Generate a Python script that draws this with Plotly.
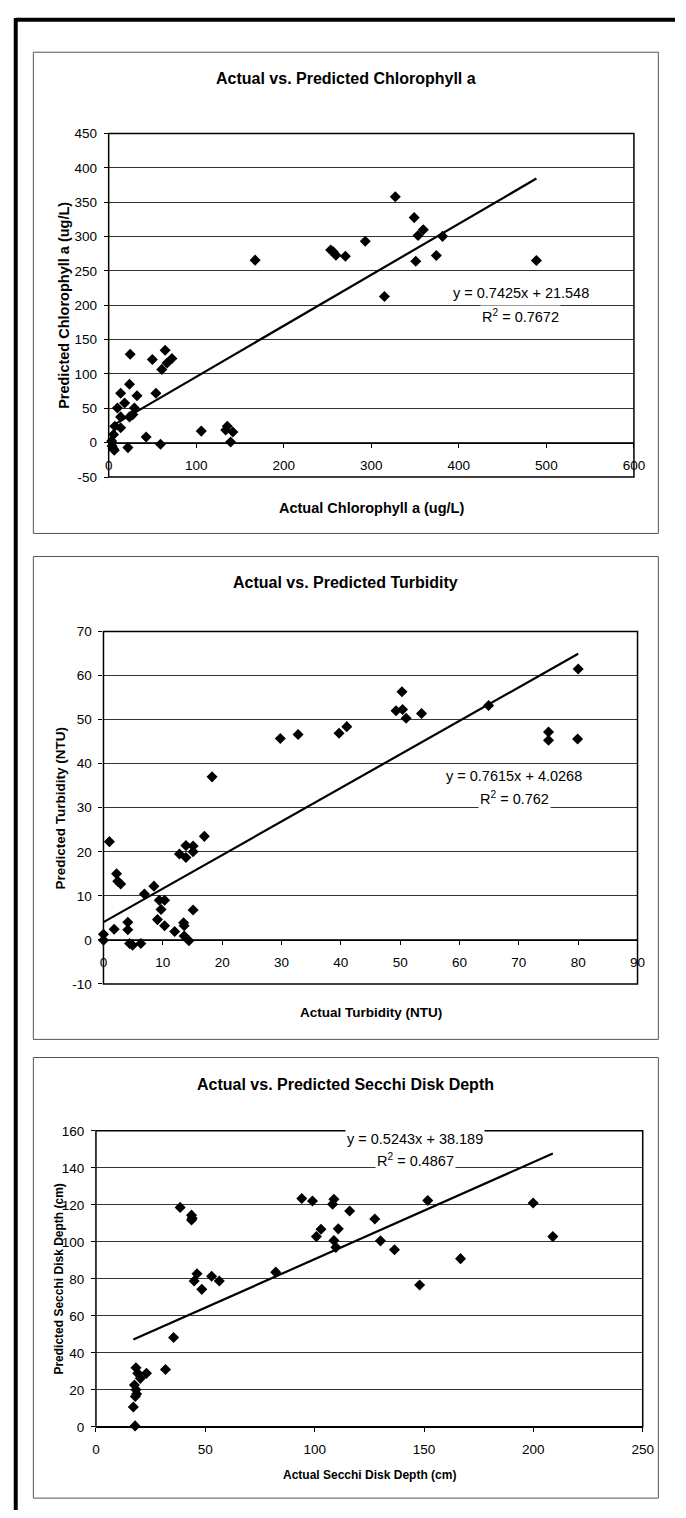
import plotly.graph_objects as go

W, H = 686, 1518

# ---------------- data ----------------
chl_actual = [167.3, 24.6, 49.9, 64.5, 72.3, 66.7, 60.7, 23.8, 13.7, 32.4, 54.0, 18.2, 10.0, 29.4,
              13.7, 23.8, 27.6, 13.7, 7.0, 5.6, 3.4, 5.2, 6.4, 22.0, 42.8, 59.2, 105.8, 135.5, 133.7,
              141.9, 139.3, 4.0, 327.4, 349.0, 359.4, 353.4, 381.4, 293.1, 253.6, 256.6, 259.6,
              270.4, 374.3, 350.8, 488.6, 315.0]
chl_pred = [265.6, 128.7, 121.0, 134.5, 122.5, 116.0, 106.6, 85.0, 72.0, 68.2, 72.0, 57.6, 50.4, 50.4,
            37.5, 37.5, 40.8, 21.6, 24.0, 12.0, 2.4, -8.6, -11.0, -7.2, 8.2, -2.4, 16.8, 24.0, 18.3,
            15.4, 1.0, -4.8, 357.8, 327.5, 309.8, 301.6, 300.2, 293.0, 280.5, 277.6, 272.8,
            271.3, 272.3, 264.1, 265.1, 212.8]
chl_fit = (0.7425, 21.548)
chl_eq = ["y = 0.7425x + 21.548", "R<sup>2</sup> = 0.7672"]
chl_yticks = [-50, 0, 50, 100, 150, 200, 250, 300, 350, 400, 450]
chl_ylabels = ["-50", "0", "50", "100", "150", "200", "250", "300", "350", "400", "450"]
chl_xticks = [0, 100, 200, 300, 400, 500, 600]

tur_actual = [29.8, 32.8, 18.3, 17.0, 13.9, 15.1, 12.8, 13.9, 15.1, 1.0, 2.2, 2.4, 2.9, 6.9, 8.5, 9.4,
              10.3, 9.7, 9.1, 10.3, 15.1, 13.5, 13.6, 12.0, 13.6, 14.4, 4.1, 4.1, 1.8, 4.4, 4.9, 6.3,
              0.0, 0.0, 39.7, 41.0, 50.3, 49.3, 50.4, 51.0, 53.6, 64.9, 80.0, 75.0, 75.0, 79.9]
tur_pred = [45.7, 46.6, 37.0, 23.5, 21.4, 21.3, 19.5, 18.7, 20.0, 22.3, 15.0, 13.3, 12.7, 10.4, 12.2, 9.0,
            9.0, 6.9, 4.6, 3.2, 6.8, 3.9, 3.2, 1.9, 0.9, -0.2, 4.0, 2.3, 2.4, -0.8, -1.2, -0.8,
            1.3, -0.1, 46.9, 48.4, 56.3, 52.0, 52.3, 50.3, 51.4, 53.2, 61.5, 47.2, 45.3, 45.6]
tur_fit = (0.7615, 4.0268)
tur_eq = ["y = 0.7615x + 4.0268", "R<sup>2</sup> = 0.762"]
tur_yticks = [-10, 0, 10, 20, 30, 40, 50, 60, 70]
tur_ylabels = ["-10", "0", "10", "20", "30", "40", "50", "60", "70"]
tur_xticks = [0, 10, 20, 30, 40, 50, 60, 70, 80, 90]

sec_actual = [38.5, 43.7, 44.0, 43.7, 46.2, 44.9, 48.4, 52.9, 56.4, 82.2, 94.1, 99.0, 100.8, 102.9,
              35.5, 31.8, 18.3, 19.1, 20.3, 23.1, 17.6, 18.3, 18.6, 18.0, 17.1, 17.9, 108.8, 108.2,
              116.0, 110.8, 108.8, 109.7, 127.5, 130.1, 136.5, 151.7, 148.0, 166.7, 199.9, 208.9]
sec_pred = [118.6, 114.4, 112.7, 111.8, 82.7, 78.8, 74.3, 81.4, 78.8, 83.6, 123.4, 122.1, 102.8, 106.8,
            48.3, 31.0, 31.9, 28.9, 26.2, 28.9, 22.6, 20.0, 17.8, 16.4, 10.7, 0.5, 123.0, 120.3,
            116.6, 107.0, 100.7, 97.0, 112.3, 100.5, 95.7, 122.3, 76.6, 90.9, 121.0, 102.8]
sec_fit = (0.5243, 38.189)
sec_eq = ["y = 0.5243x + 38.189", "R<sup>2</sup> = 0.4867"]
sec_yticks = [0, 20, 40, 60, 80, 100, 120, 140, 160]
sec_ylabels = ["0", "20", "40", "60", "80", "100", "120", "140", "160"]
sec_xticks = [0, 50, 100, 150, 200, 250]

titles = ["Actual vs. Predicted Chlorophyll a", "Actual vs. Predicted Turbidity",
          "Actual vs. Predicted Secchi Disk Depth"]
xtitles = ["Actual Chlorophyll a (ug/L)", "Actual Turbidity (NTU)", "Actual Secchi Disk Depth (cm)"]
ytitles = ["Predicted Chlorophyll a (ug/L)", "Predicted Turbidity (NTU)", "Predicted Secchi Disk Depth (cm)"]

x_ranges = [(0, 600), (0, 90), (0, 250)]
y_ranges = [(-50, 450), (-10, 70), (0, 160)]
eq_pos = [((470.7, 217.6), (470.7, 184.9)), ((69.2, 37.1), (69.2, 32.2)), ((146.1, 155.8), (146.1, 144.4))]

# ---------------- layout geometry (pixels) ----------------
plot_px = [  # left, right, top, bottom
    (107, 644, 127.7, 474.7),
    (101.7, 647.7, 630.7, 986.7),
    (94, 653, 1135, 1434),
]
box_px = [(30, 669, 45.7, 531.7), (30, 669, 555, 1042.7), (30, 669, 1061, 1506)]
title_y = [72, 581, 1088]
xtitle_y = [506, 1016, 1483]
ytitle_x = [62, 58, 56]
title_sizes = [16, 16, 16]
xt_sizes = [14.5, 13.5, 12]
tick_size = 13.5


def px(x):
    return x / W


def py(y):
    return 1 - y / H


fig = go.Figure()
font_fam = "Liberation Sans, Arial, sans-serif"

datasets = [(chl_actual, chl_pred, chl_fit, chl_eq, chl_xticks, chl_yticks, chl_ylabels),
            (tur_actual, tur_pred, tur_fit, tur_eq, tur_xticks, tur_yticks, tur_ylabels),
            (sec_actual, sec_pred, sec_fit, sec_eq, sec_xticks, sec_yticks, sec_ylabels)]

shapes = []
annotations = []
for i, (xa, ya, fit, eq, xt, yt, yl) in enumerate(datasets):
    n = i + 1
    xref = "x" if n == 1 else f"x{n}"
    yref = "y" if n == 1 else f"y{n}"
    fig.add_trace(go.Scatter(x=xa, y=ya, mode="markers", xaxis=xref, yaxis=yref,
                             marker=dict(symbol="diamond", size=8.5, color="black"),
                             showlegend=False, cliponaxis=False))
    x0, x1 = min(xa), max(xa)
    fig.add_trace(go.Scatter(x=[x0, x1], y=[fit[0] * x0 + fit[1], fit[0] * x1 + fit[1]],
                             mode="lines", line=dict(color="black", width=2.2),
                             xaxis=xref, yaxis=yref, showlegend=False))
    l, r, t, b = plot_px[i]
    ydom = [py(b), py(t)]
    xdom = [px(l), px(r)]
    yr = y_ranges[i]
    zero_frac = (0 - yr[0]) / (yr[1] - yr[0])
    xpos = ydom[0] + zero_frac * (ydom[1] - ydom[0])
    ax_key = "xaxis" if n == 1 else f"xaxis{n}"
    ay_key = "yaxis" if n == 1 else f"yaxis{n}"
    fig.update_layout(**{
        ax_key: dict(domain=xdom, range=list(x_ranges[i]), tickvals=xt,
                     ticktext=[str(v) for v in xt],
                     anchor="free", position=xpos, showgrid=False, zeroline=False,
                     showline=True, linecolor="black", linewidth=1,
                     ticks="outside", ticklen=4, tickcolor="black",
                     tickfont=dict(family=font_fam, size=tick_size, color="black"),
                     ticklabelstandoff=6),
        ay_key: dict(domain=ydom, range=list(yr), tickvals=yt, ticktext=yl,
                     anchor=xref, showgrid=True, gridcolor="#333", gridwidth=1,
                     zeroline=False, showline=False,
                     ticks="outside", ticklen=4, tickcolor="black",
                     tickfont=dict(family=font_fam, size=tick_size, color="black"),
                     ticklabelstandoff=4),
    })
    # plot-area frame
    shapes.append(dict(type="rect", xref=f"{xref} domain", yref=f"{yref} domain",
                       x0=0, x1=1, y0=0, y1=1, line=dict(color="black", width=1.5),
                       layer="above"))
    # chart-area box
    bl, br, bt, bb = box_px[i]
    shapes.append(dict(type="rect", xref="paper", yref="paper", x0=px(bl), x1=px(br),
                       y0=py(bb), y1=py(bt), line=dict(color="#555", width=1)))
    # titles
    annotations.append(dict(text=f"<b>{titles[i]}</b>", xref="paper", yref="paper",
                            x=px((bl + br) / 2), y=py(title_y[i]), showarrow=False,
                            xanchor="center", yanchor="middle",
                            font=dict(family=font_fam, size=title_sizes[i], color="black")))
    annotations.append(dict(text=f"<b>{xtitles[i]}</b>", xref="paper", yref="paper",
                            x=px((l + r) / 2), y=py(xtitle_y[i]), showarrow=False,
                            xanchor="center", yanchor="middle",
                            font=dict(family=font_fam, size=xt_sizes[i], color="black")))
    annotations.append(dict(text=f"<b>{ytitles[i]}</b>", xref="paper", yref="paper",
                            x=px(ytitle_x[i]), y=py((t + b) / 2), showarrow=False,
                            textangle=-90, xanchor="center", yanchor="middle",
                            font=dict(family=font_fam, size=xt_sizes[i], color="black")))
    # equation
    (ex, ey), (rx, ry) = eq_pos[i]
    annotations.append(dict(text=eq[0], xref=xref, yref=yref, x=ex, y=ey, showarrow=False,
                            font=dict(family=font_fam, size=14.5, color="black"),
                            bgcolor="white"))
    annotations.append(dict(text=eq[1], xref=xref, yref=yref, x=rx, y=ry, showarrow=False,
                            font=dict(family=font_fam, size=14.5, color="black"),
                            bgcolor="white"))

# outer thick page frame (top & left)
shapes.append(dict(type="line", xref="paper", yref="paper", x0=px(12), x1=1.0,
                   y0=py(13), y1=py(13), line=dict(color="black", width=4)))
shapes.append(dict(type="line", xref="paper", yref="paper", x0=px(12), x1=px(12),
                   y0=py(11), y1=0, line=dict(color="black", width=4)))

fig.update_layout(width=W, height=H, margin=dict(l=0, r=0, t=0, b=0),
                  paper_bgcolor="white", plot_bgcolor="white",
                  shapes=shapes, annotations=annotations, showlegend=False)

fig.write_html("out.html")
